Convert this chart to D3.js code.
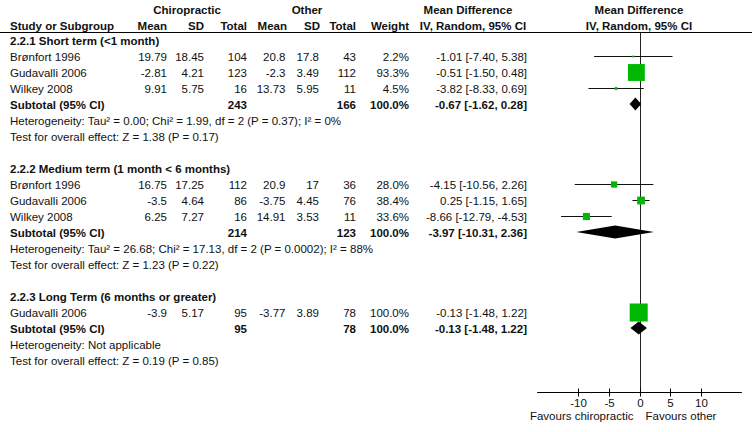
<!DOCTYPE html>
<html>
<head>
<meta charset="utf-8">
<script src="https://cdn.jsdelivr.net/npm/d3@7"></script>
<style>
  html, body { margin: 0; padding: 0; background: #fff; }
  svg { display: block; }
  text { font-family: "Liberation Sans", Arial, sans-serif; font-size: 11.5px; fill: #111; }
  .b { font-weight: bold; }
</style>
</head>
<body>
<svg id="chart" width="752" height="432"></svg>
<script>
// ---------- data ----------
const subgroups = ["2.2.1 Short term (<1 month)", "2.2.2 Medium term (1 month < 6 months)", "2.2.3 Long Term (6 months or greater)"];
const studyGroup = [0, 0, 0, 1, 1, 1, 2];
const studyNames = ["Brønfort 1996", "Gudavalli 2006", "Wilkey 2008", "Brønfort 1996", "Gudavalli 2006", "Wilkey 2008", "Gudavalli 2006"];
const chiroMean = [19.79, -2.81, 9.91, 16.75, -3.5, 6.25, -3.9];
const chiroSD = [18.45, 4.21, 5.75, 17.25, 4.64, 7.27, 5.17];
const chiroN = [104, 123, 16, 112, 86, 16, 95];
const otherMean = [20.8, -2.3, 13.73, 20.9, -3.75, 14.91, -3.77];
const otherSD = [17.8, 3.49, 5.95, 17, 4.45, 3.53, 3.89];
const otherN = [43, 112, 11, 36, 76, 11, 78];
const weight = [2.2, 93.3, 4.5, 28.0, 38.4, 33.6, 100.0];
const md = [-1.01, -0.51, -3.82, -4.15, 0.25, -8.66, -0.13];
const mdLo = [-7.40, -1.50, -8.33, -10.56, -1.15, -12.79, -1.48];
const mdHi = [5.38, 0.48, 0.69, 2.26, 1.65, -4.53, 1.22];

const subChiroN = [243, 214, 95];
const subOtherN = [166, 123, 78];
const subWeight = [100.0, 100.0, 100.0];
const subMD = [-0.67, -3.97, -0.13];
const subLo = [-1.62, -10.31, -1.48];
const subHi = [0.28, 2.36, 1.22];
const heterogeneity = [
  "Heterogeneity: Tau² = 0.00; Chi² = 1.99, df = 2 (P = 0.37); I² = 0%",
  "Heterogeneity: Tau² = 26.68; Chi² = 17.13, df = 2 (P = 0.0002); I² = 88%",
  "Heterogeneity: Not applicable"
];
const overallEffect = [
  "Test for overall effect: Z = 1.38 (P = 0.17)",
  "Test for overall effect: Z = 1.23 (P = 0.22)",
  "Test for overall effect: Z = 0.19 (P = 0.85)"
];
const axisTicks = [-10, -5, 0, 5, 10];
const axisExtent = [-16.7, 16.7];
const favourLabels = ["Favours chiropractic", "Favours other"];

// ---------- layout ----------
const svg = d3.select("#chart");
const W = 752;
const ROW = 16, FIRST_ROW = 41;
const x = d3.scaleLinear().domain([-10, 10]).range([578.2, 700.8]);
const boxSize = d3.scaleLinear().domain([0, 5, 40, 100]).range([1, 3, 8, 18]);
const green = "#00b800";

// build row list
const rows = [];
subgroups.forEach((g, gi) => {
  if (gi > 0) rows.push({type: "blank"});
  rows.push({type: "heading", gi});
  studyGroup.forEach((sg, i) => { if (sg === gi) rows.push({type: "study", i}); });
  rows.push({type: "subtotal", gi});
  rows.push({type: "het", gi});
  rows.push({type: "test", gi});
});
const yRow = d3.scaleLinear().domain([0, 1]).range([FIRST_ROW, FIRST_ROW + ROW]);
rows.forEach((r, k) => r.y = yRow(k));

const col = { name: 10, cMean: 167, cSD: 204, cN: 247, oMean: 285.5, oSD: 319, oN: 356, w: 409, md: 527 };

function txt(xp, yp, s, anchor, bold) {
  return svg.append("text").attr("x", xp).attr("y", yp + 4)
    .attr("text-anchor", anchor || "start").classed("b", !!bold).text(s);
}

// headers
txt(187, 10, "Chiropractic", "middle", true);
txt(307, 10, "Other", "middle", true);
txt(468, 10, "Mean Difference", "middle", true);
txt(639, 10, "Mean Difference", "middle", true);
const hy = 25.5;
txt(col.name, hy, "Study or Subgroup", "start", true);
txt(col.cMean, hy, "Mean", "end", true);
txt(col.cSD, hy, "SD", "end", true);
txt(col.cN, hy, "Total", "end", true);
txt(col.oMean + 1.5, hy, "Mean", "end", true);
txt(col.oSD + 1, hy, "SD", "end", true);
txt(col.oN, hy, "Total", "end", true);
txt(col.w, hy, "Weight", "end", true);
txt(473, hy, "IV, Random, 95% CI", "middle", true);
txt(639, hy, "IV, Random, 95% CI", "middle", true);

svg.append("line").attr("x1", 0).attr("x2", W).attr("y1", 32.5).attr("y2", 32.5)
  .attr("stroke", "#000").attr("stroke-width", 1);

// zero line
const axisY = 392.5;
svg.append("line").attr("x1", Math.round(x(0)) + 0.5).attr("x2", Math.round(x(0)) + 0.5)
  .attr("y1", 33).attr("y2", axisY).attr("stroke", "#222").attr("stroke-width", 1);

const f2 = v => v.toFixed(2);
const ciText = (m, l, h) => `${f2(m)} [${f2(l)}, ${f2(h)}]`;

rows.forEach(r => {
  const y = r.y;
  if (r.type === "heading") {
    txt(col.name, y, subgroups[r.gi], "start", true);
  } else if (r.type === "study") {
    const i = r.i;
    txt(col.name, y, studyNames[i]);
    txt(col.cMean, y, String(chiroMean[i]), "end");
    txt(col.cSD, y, String(chiroSD[i]), "end");
    txt(col.cN, y, String(chiroN[i]), "end");
    txt(col.oMean, y, String(otherMean[i]), "end");
    txt(col.oSD, y, String(otherSD[i]), "end");
    txt(col.oN, y, String(otherN[i]), "end");
    txt(col.w, y, weight[i].toFixed(1) + "%", "end");
    txt(col.md, y, ciText(md[i], mdLo[i], mdHi[i]), "end");
    const my = Math.round(y - 1.5) + 0.5;
    svg.append("line").attr("x1", x(mdLo[i])).attr("x2", x(mdHi[i]))
      .attr("y1", my).attr("y2", my).attr("stroke", "#111").attr("stroke-width", 1);
    const s = boxSize(weight[i]);
    svg.append("rect").attr("x", x(md[i]) - s / 2).attr("y", my - s / 2)
      .attr("width", s).attr("height", s).attr("fill", green);
  } else if (r.type === "subtotal") {
    const g = r.gi;
    txt(col.name, y, "Subtotal (95% CI)", "start", true);
    txt(col.cN, y, String(subChiroN[g]), "end", true);
    txt(col.oN, y, String(subOtherN[g]), "end", true);
    txt(col.w, y, subWeight[g].toFixed(1) + "%", "end", true);
    txt(col.md, y, ciText(subMD[g], subLo[g], subHi[g]), "end", true);
    const dy = y - 1, h = 6.5;
    const pts = [[x(subLo[g]), dy], [x(subMD[g]), dy - h], [x(subHi[g]), dy], [x(subMD[g]), dy + h]];
    svg.append("polygon").attr("points", pts.map(p => p.join(",")).join(" ")).attr("fill", "#000");
  } else if (r.type === "het") {
    txt(col.name, y, heterogeneity[r.gi]);
  } else if (r.type === "test") {
    txt(col.name, y, overallEffect[r.gi]);
  }
});

// axis
svg.append("line").attr("x1", x(axisExtent[0])).attr("x2", x(axisExtent[1]))
  .attr("y1", axisY).attr("y2", axisY).attr("stroke", "#000").attr("stroke-width", 1);
axisTicks.forEach(t => {
  const tx = Math.round(x(t)) + 0.5;
  svg.append("line").attr("x1", tx).attr("x2", tx).attr("y1", axisY - 4).attr("y2", axisY + 4)
    .attr("stroke", "#000").attr("stroke-width", 1);
  txt(tx, 403, String(t), "middle");
});
txt(x(0) - 6, 416, favourLabels[0], "end");
txt(x(0) + 6, 416, favourLabels[1], "start");
</script>
</body>
</html>
